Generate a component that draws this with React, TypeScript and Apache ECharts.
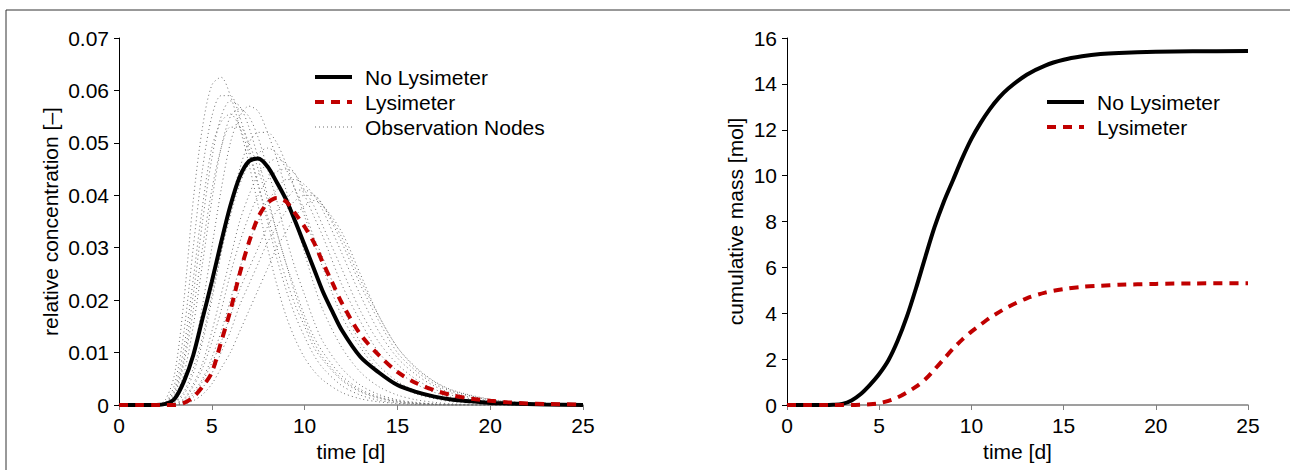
import React, { useEffect, useRef } from "react";
import * as echarts from "echarts";

const FONT = "'Liberation Sans', Arial, Helvetica, sans-serif";

// ---------- Left panel: relative concentration ----------
const concTimes = [0, 1, 2, 2.5, 3, 3.5, 4, 4.5, 5, 5.5, 6, 6.5, 7, 7.5, 8, 8.5, 9, 9.5, 10, 10.5, 11, 11.5, 12, 13, 14, 15, 16, 17, 18, 19, 20, 21, 22, 23, 25];
const concNoLys = [0, 0, 0, 0.0002, 0.0012, 0.0045, 0.0095, 0.0165, 0.0235, 0.031, 0.038, 0.0435, 0.0465, 0.047, 0.0455, 0.0425, 0.0392, 0.035, 0.0305, 0.026, 0.0215, 0.0178, 0.0143, 0.0092, 0.0062, 0.0038, 0.0025, 0.0016, 0.001, 0.0007, 0.0004, 0.0003, 0.0002, 0.0001, 0];
const concLys = [0, 0, 0, 0, 0, 0.0004, 0.0015, 0.0035, 0.0062, 0.012, 0.018, 0.025, 0.031, 0.0358, 0.0385, 0.0395, 0.0388, 0.0365, 0.034, 0.031, 0.027, 0.0233, 0.0195, 0.0135, 0.0095, 0.0063, 0.0042, 0.0028, 0.0018, 0.0012, 0.0008, 0.0005, 0.0003, 0.0002, 0.0001];

const nodeTimes = [0, 2, 2.5, 3, 3.5, 4, 4.5, 5, 5.5, 6, 6.5, 7, 7.5, 8, 8.5, 9, 9.5, 10, 10.5, 11, 12, 13, 14, 15, 16, 17, 18, 20, 22, 25];
const node1 = [0, 0, 0.001, 0.006, 0.020, 0.039, 0.053, 0.061, 0.0625, 0.059, 0.053, 0.046, 0.038, 0.030, 0.023, 0.017, 0.0125, 0.009, 0.0065, 0.0047, 0.0024, 0.0012, 0.0006, 0.0003, 0.0001, 0, 0, 0, 0, 0];
const node2 = [0, 0, 0.0005, 0.004, 0.014, 0.030, 0.045, 0.055, 0.059, 0.059, 0.055, 0.049, 0.042, 0.035, 0.028, 0.022, 0.017, 0.013, 0.0095, 0.007, 0.0037, 0.0019, 0.0009, 0.0004, 0.0002, 0.0001, 0, 0, 0, 0];
const node3 = [0, 0, 0.0003, 0.0025, 0.009, 0.021, 0.035, 0.047, 0.055, 0.058, 0.057, 0.053, 0.047, 0.040, 0.033, 0.027, 0.021, 0.016, 0.012, 0.009, 0.005, 0.0027, 0.0014, 0.0007, 0.0003, 0.0001, 0, 0, 0, 0];
const node4 = [0, 0, 0, 0.0015, 0.006, 0.015, 0.027, 0.039, 0.049, 0.055, 0.0565, 0.055, 0.051, 0.045, 0.039, 0.032, 0.026, 0.021, 0.016, 0.012, 0.007, 0.0038, 0.002, 0.001, 0.0005, 0.0002, 0.0001, 0, 0, 0];
const node5 = [0, 0, 0, 0.001, 0.004, 0.010, 0.019, 0.030, 0.041, 0.050, 0.055, 0.057, 0.056, 0.052, 0.047, 0.041, 0.035, 0.029, 0.023, 0.018, 0.011, 0.0063, 0.0035, 0.0019, 0.001, 0.0005, 0.0002, 0, 0, 0];
const node6 = [0, 0, 0, 0.0005, 0.002, 0.006, 0.012, 0.020, 0.029, 0.038, 0.045, 0.050, 0.052, 0.052, 0.050, 0.046, 0.041, 0.036, 0.031, 0.026, 0.017, 0.011, 0.0065, 0.0038, 0.0021, 0.0012, 0.0006, 0.0002, 0, 0];
const node7 = [0, 0, 0, 0.0003, 0.0012, 0.004, 0.008, 0.014, 0.021, 0.028, 0.035, 0.040, 0.044, 0.046, 0.047, 0.046, 0.044, 0.040, 0.036, 0.032, 0.023, 0.016, 0.010, 0.0065, 0.004, 0.0024, 0.0014, 0.0005, 0.0002, 0];
const node8 = [0, 0, 0, 0, 0.0007, 0.0025, 0.005, 0.009, 0.014, 0.020, 0.026, 0.031, 0.035, 0.039, 0.041, 0.043, 0.043, 0.042, 0.040, 0.037, 0.029, 0.021, 0.014, 0.009, 0.0058, 0.0036, 0.0022, 0.0008, 0.0003, 0];
const node9 = [0, 0, 0, 0, 0.0004, 0.0015, 0.0033, 0.006, 0.010, 0.014, 0.019, 0.023, 0.027, 0.031, 0.034, 0.037, 0.039, 0.040, 0.040, 0.038, 0.031, 0.023, 0.016, 0.010, 0.0065, 0.004, 0.0025, 0.001, 0.0003, 0];
const node10 = [0, 0, 0, 0, 0.0002, 0.0008, 0.002, 0.004, 0.007, 0.010, 0.014, 0.018, 0.022, 0.026, 0.030, 0.033, 0.036, 0.038, 0.039, 0.038, 0.033, 0.025, 0.017, 0.011, 0.007, 0.0044, 0.0027, 0.001, 0.0003, 0];
const node11 = [0, 0, 0.0002, 0.002, 0.008, 0.018, 0.030, 0.041, 0.049, 0.053, 0.053, 0.050, 0.045, 0.039, 0.033, 0.027, 0.022, 0.017, 0.013, 0.010, 0.0056, 0.003, 0.0016, 0.0008, 0.0004, 0.0002, 0, 0, 0, 0];
const node12 = [0, 0, 0, 0.0006, 0.0025, 0.007, 0.013, 0.021, 0.029, 0.036, 0.042, 0.046, 0.048, 0.049, 0.048, 0.045, 0.041, 0.037, 0.032, 0.028, 0.019, 0.012, 0.0075, 0.0045, 0.0027, 0.0016, 0.0009, 0.0003, 0.0001, 0];
const node13 = [0, 0, 0.0004, 0.003, 0.011, 0.024, 0.038, 0.049, 0.054, 0.0555, 0.053, 0.048, 0.042, 0.036, 0.030, 0.024, 0.019, 0.015, 0.011, 0.0085, 0.0047, 0.0025, 0.0013, 0.0006, 0.0003, 0.0001, 0, 0, 0, 0];
const node14 = [0, 0, 0, 0, 0.0005, 0.002, 0.0045, 0.008, 0.012, 0.017, 0.022, 0.026, 0.030, 0.034, 0.037, 0.039, 0.041, 0.041, 0.040, 0.038, 0.032, 0.024, 0.017, 0.011, 0.0072, 0.0045, 0.0028, 0.0011, 0.0004, 0];
const node15 = [0, 0, 0, 0.0002, 0.001, 0.0035, 0.007, 0.012, 0.018, 0.025, 0.031, 0.036, 0.040, 0.043, 0.0445, 0.045, 0.044, 0.041, 0.038, 0.034, 0.026, 0.018, 0.012, 0.0078, 0.0049, 0.003, 0.0018, 0.0007, 0.0002, 0];
const observationNodes = [node1, node2, node11, node13, node3, node4, node5, node6, node12, node7, node15, node8, node14, node9, node10];

// ---------- Right panel: cumulative mass ----------
const massTimes = [0, 1, 2, 2.5, 3, 3.5, 4, 4.5, 5, 5.5, 6, 6.5, 7, 7.5, 8, 8.5, 9, 9.5, 10, 10.5, 11, 11.5, 12, 13, 14, 15, 16, 17, 18, 20, 22, 25];
const massNoLys = [0, 0, 0, 0.01, 0.05, 0.2, 0.48, 0.88, 1.35, 1.95, 2.8, 3.85, 5.1, 6.45, 7.75, 8.85, 9.8, 10.75, 11.6, 12.3, 12.9, 13.4, 13.8, 14.4, 14.8, 15.05, 15.2, 15.3, 15.35, 15.4, 15.42, 15.43];
const massLys = [0, 0, 0, 0, 0, 0, 0.01, 0.03, 0.08, 0.18, 0.33, 0.55, 0.8, 1.12, 1.55, 2.0, 2.45, 2.85, 3.2, 3.5, 3.8, 4.05, 4.28, 4.65, 4.9, 5.05, 5.15, 5.2, 5.24, 5.28, 5.3, 5.31];

const xTicks = { min: 0, max: 25, interval: 5 };
const concAxis = { min: 0, max: 0.07, interval: 0.01 };
const massAxis = { min: 0, max: 16, interval: 2 };

const legendLeftNames = ["No Lysimeter", "Lysimeter", "Observation Nodes"];
const legendRightNames = ["No Lysimeter", "Lysimeter"];

const pairs = (ts: number[], vs: number[]) => ts.map((t, i) => [t, vs[i]]);

const BLACK = "#000000";
const RED = "#c00000";
const NODE_GREY = "#6e6e6e";

const styleFor: Record<string, any> = {
  "No Lysimeter": { stroke: BLACK, lineWidth: 4 },
  Lysimeter: { stroke: RED, lineWidth: 4, lineDash: [9, 7] },
  "Observation Nodes": { stroke: NODE_GREY, lineWidth: 1, lineDash: [1, 3] },
};

function legendGraphic(names: string[], x: number, y0: number, gap: number) {
  const els: any[] = [];
  names.forEach((n, i) => {
    const y = y0 + i * gap;
    els.push({
      type: "line",
      shape: { x1: x, y1: y, x2: x + 37, y2: y },
      style: { ...styleFor[n], fill: "none" },
      silent: true,
    });
    els.push({
      type: "text",
      x: x + 50,
      y,
      style: { text: n, fontSize: 21, fontFamily: FONT, fill: "#000", verticalAlign: "middle", align: "left" },
      silent: true,
    });
  });
  return els;
}

function xAxisCfg(gridIndex: number) {
  return {
    type: "value",
    gridIndex,
    ...xTicks,
    name: "time [d]",
    nameLocation: "middle",
    nameGap: 32,
    nameTextStyle: { fontSize: 21, fontFamily: FONT, color: "#000" },
    axisLine: { show: true, onZero: false, lineStyle: { color: "#808080", width: 1.5 } },
    axisTick: { show: true, length: 5, lineStyle: { color: "#808080", width: 1 } },
    axisLabel: { fontSize: 21, fontFamily: FONT, color: "#000", margin: 10 },
    splitLine: { show: false },
  };
}

function yAxisCfg(gridIndex: number, range: any, name: string, nameGap: number, fmt: (v: number) => string) {
  return {
    type: "value",
    gridIndex,
    ...range,
    name,
    nameLocation: "middle",
    nameRotate: 90,
    nameGap,
    nameTextStyle: { fontSize: 21, fontFamily: FONT, color: "#000" },
    axisLine: { show: true, lineStyle: { color: "#000", width: 1 } },
    axisTick: { show: true, length: 5, lineStyle: { color: "#000", width: 1 } },
    axisLabel: { fontSize: 21, fontFamily: FONT, color: "#000", margin: 10, formatter: fmt },
    splitLine: { show: false },
  };
}

export default function App() {
  const ref = useRef<HTMLDivElement>(null);

  useEffect(() => {
    document.body.style.margin = "0";
    if (!ref.current) return;
    const chart = echarts.init(ref.current, undefined, { renderer: "svg" });

    const nodeSeries = observationNodes.map((arr) => ({
      type: "line",
      name: "Observation Nodes",
      xAxisIndex: 0,
      yAxisIndex: 0,
      data: pairs(nodeTimes, arr),
      symbol: "none",
      showSymbol: false,
      smooth: 0.3,
      silent: true,
      lineStyle: { color: NODE_GREY, width: 1, type: [1, 3] },
      z: 1,
    }));

    const lineSeries = (name: string, xi: number, ts: number[], vs: number[], color: string, dash: any, z: number) => ({
      type: "line",
      name,
      xAxisIndex: xi,
      yAxisIndex: xi,
      data: pairs(ts, vs),
      symbol: "none",
      showSymbol: false,
      smooth: 0.3,
      silent: true,
      lineStyle: { color, width: 4, type: dash },
      z,
    });

    const option: any = {
      animation: false,
      backgroundColor: "#fff",
      textStyle: { fontFamily: FONT },
      grid: [
        { left: 119, top: 38, width: 464, height: 367 },
        { left: 787, top: 38, width: 461, height: 367 },
      ],
      xAxis: [xAxisCfg(0), xAxisCfg(1)],
      yAxis: [
        yAxisCfg(0, concAxis, "relative concentration [–]", 58, (v: number) => (v === 0 ? "0" : v.toFixed(2))),
        yAxisCfg(1, massAxis, "cumulative mass [mol]", 41, (v: number) => String(Math.round(v))),
      ],
      graphic: [
        {
          type: "rect",
          shape: { x: 6, y: 10, width: 1400, height: 600 },
          style: { fill: "none", stroke: "#333", lineWidth: 1 },
          silent: true,
          z: 100,
        },
        ...legendGraphic(legendLeftNames, 315, 77, 25),
        ...legendGraphic(legendRightNames, 1047, 102, 25),
      ],
      series: [
        ...nodeSeries,
        lineSeries("No Lysimeter", 0, concTimes, concNoLys, BLACK, "solid", 3),
        lineSeries("Lysimeter", 0, concTimes, concLys, RED, [9, 7], 4),
        lineSeries("No Lysimeter", 1, massTimes, massNoLys, BLACK, "solid", 3),
        lineSeries("Lysimeter", 1, massTimes, massLys, RED, [9, 7], 4),
      ],
    };

    chart.setOption(option);
    return () => chart.dispose();
  }, []);

  return <div ref={ref} style={{ width: 1290, height: 470 }} />;
}
